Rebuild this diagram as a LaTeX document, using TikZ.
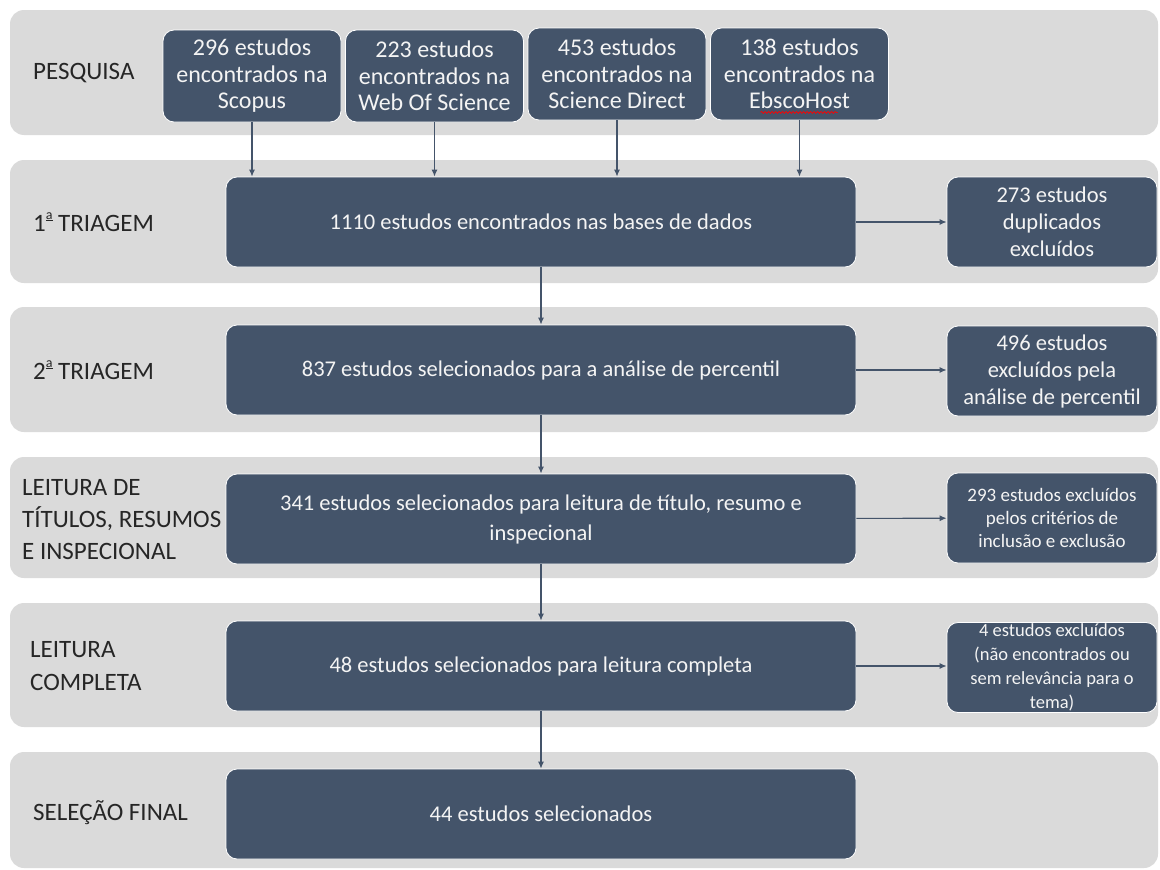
\documentclass[tikz,border=0pt]{standalone}
\usepackage{fontspec}
\setmainfont{Carlito}
\usetikzlibrary{arrows.meta,decorations.pathmorphing}
\definecolor{bandgray}{HTML}{DADADA}
\definecolor{boxblue}{HTML}{44546A}
\definecolor{labelink}{HTML}{262626}
\definecolor{boxink}{HTML}{F4F4F4}
% feminine ordinal with the bar below it
\newcommand{\ordfem}{\raisebox{1.05ex}{\fontsize{14}{14}\selectfont\underline{a}}}
\tikzset{
  band/.style={fill=bandgray, rounded corners=14pt, draw=none},
  stage/.style={anchor=west, text=labelink, align=left,
    font=\fontsize{25}{32}\selectfont, inner sep=0pt},
  dbox/.style={fill=boxblue, draw=white, line width=0.8pt, rounded corners=11pt,
    text=boxink, align=center, inner xsep=2pt, inner ysep=0pt},
  srcbox/.style={dbox, minimum width=178pt, minimum height=92pt,
    font=\fontsize{24}{26.5}\selectfont},
  mainbox/.style={dbox, minimum width=630pt, minimum height=90pt,
    font=\fontsize{22.5}{30}\selectfont},
  sidebox/.style={dbox, minimum width=210pt, minimum height=90pt,
    font=\fontsize{22.5}{27}\selectfont},
  flow/.style={draw=boxblue, line width=1.1pt, -{Latex[length=7pt,width=6pt]}},
}
\begin{document}
\begin{tikzpicture}[x=1pt,y=-1pt]
\useasboundingbox (0,0) rectangle (1160,870);
% stage bands
\fill[band] (10,10) rectangle (1158,135);
\fill[band] (10,160) rectangle (1158,283);
\fill[band] (10,307) rectangle (1158,432);
\fill[band] (10,457) rectangle (1158,578);
\fill[band] (10,603) rectangle (1158,727);
\fill[band] (10,752) rectangle (1158,868);
% stage labels
\node[stage] (l1) at (33,73) {PESQUISA};
\node[stage] (l2) at (33,222) {1\ordfem{} TRIAGEM};
\node[stage] (l3) at (33,370) {2\ordfem{} TRIAGEM};
\node[stage] (l4) at (22,520) {LEITURA DE\\TÍTULOS, RESUMOS\\E INSPECIONAL};
\node[stage, font=\fontsize{25}{33}\selectfont] (l5) at (30,666) {LEITURA\\COMPLETA};
\node[stage] (l6) at (33,813) {SELEÇÃO FINAL};
% database searches
\node[srcbox] (t1) at (252,76) {296 estudos\\encontrados na\\Scopus};
\node[srcbox] (t2) at (434.5,76) {223 estudos\\encontrados na\\Web Of Science};
\node[srcbox] (t3) at (617,74) {453 estudos\\encontrados na\\Science Direct};
\node[srcbox] (t4) at (799.5,74) {138 estudos\\encontrados na\\EbscoHost};
\draw[red, line width=0.7pt, decorate,
  decoration={snake, amplitude=1pt, segment length=3.5pt}]
  ([xshift=-39pt,yshift=8pt]t4.south) -- ([xshift=38pt,yshift=8pt]t4.south);
% screening stages
\node[mainbox] (m1) at (541,222) {1110 estudos encontrados nas bases de dados};
\node[mainbox] (m2) at (541,370) {837 estudos selecionados para a análise de percentil};
\node[mainbox] (m3) at (541,519) {341 estudos selecionados para leitura de título, resumo e\\inspecional};
\node[mainbox] (m4) at (541,666) {48 estudos selecionados para leitura completa};
\node[mainbox] (m5) at (541,814) {44 estudos selecionados};
% exclusions
\node[sidebox] (s1) at (1052,222) {273 estudos\\duplicados\\excluídos};
\node[sidebox] (s2) at (1052,371) {496 estudos\\excluídos pela\\análise de percentil};
\node[sidebox, font=\fontsize{19}{23}\selectfont] (s3) at (1052,518) {293 estudos excluídos\\pelos critérios de\\inclusão e exclusão};
\node[sidebox, font=\fontsize{18.5}{24}\selectfont] (s4) at (1052,667.5) {4 estudos excluídos\\(não encontrados ou\\sem relevância para o\\tema)};
% connectors
\foreach \t in {t1,t2,t3,t4}
  \draw[flow] (\t.south) -- (\t.south |- m1.north);
\draw[flow] (m1) -- (m2);
\draw[flow] (m2) -- (m3);
\draw[flow] (m3) -- (m4);
\draw[flow] (m4) -- (m5);
\draw[flow] (m1) -- (s1);
\draw[flow] (m2.east) -- (m2.east -| s2.west);
\draw[flow] (m3) -- (s3);
\draw[flow] (m4.east) -- (m4.east -| s4.west);
\end{tikzpicture}
\end{document}
